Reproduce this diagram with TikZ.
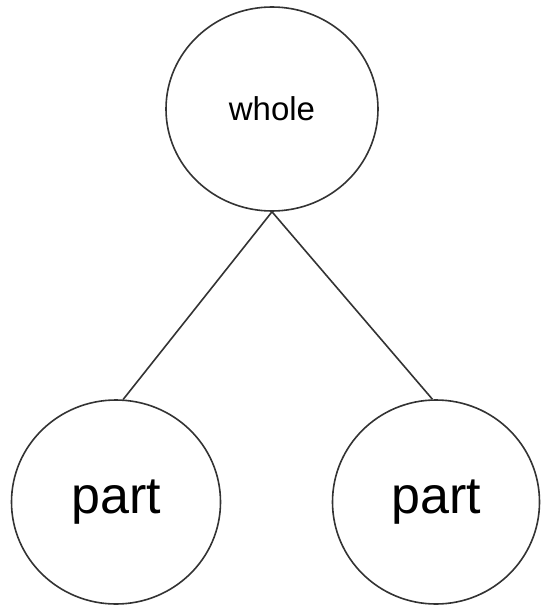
\documentclass[tikz,border=0pt]{standalone}
\usepackage{fontspec}
\setmainfont{Liberation Sans}
\usetikzlibrary{shapes.geometric}
\begin{document}
\begin{tikzpicture}[x=1pt,y=-1pt,
  ball/.style={ellipse,draw=black!80,line width=1.6pt,minimum width=212pt,minimum height=204pt,inner sep=0pt},
  link/.style={draw=black!80,line width=1.6pt}]
\useasboundingbox (0,0) rectangle (541,607);
\node[ball,font=\fontsize{33}{38}\selectfont] (whole) at (272,109) {whole};
\node[ball,minimum width=209pt,font=\fontsize{52}{60}\selectfont] (left) at (116,502) {part};
\node[ball,minimum width=207pt,font=\fontsize{52}{60}\selectfont] (right) at (436,502) {part};
\draw[link] (whole.south) -- (left.86);
\draw[link] (whole.south) -- (right.92);
\end{tikzpicture}
\end{document}
